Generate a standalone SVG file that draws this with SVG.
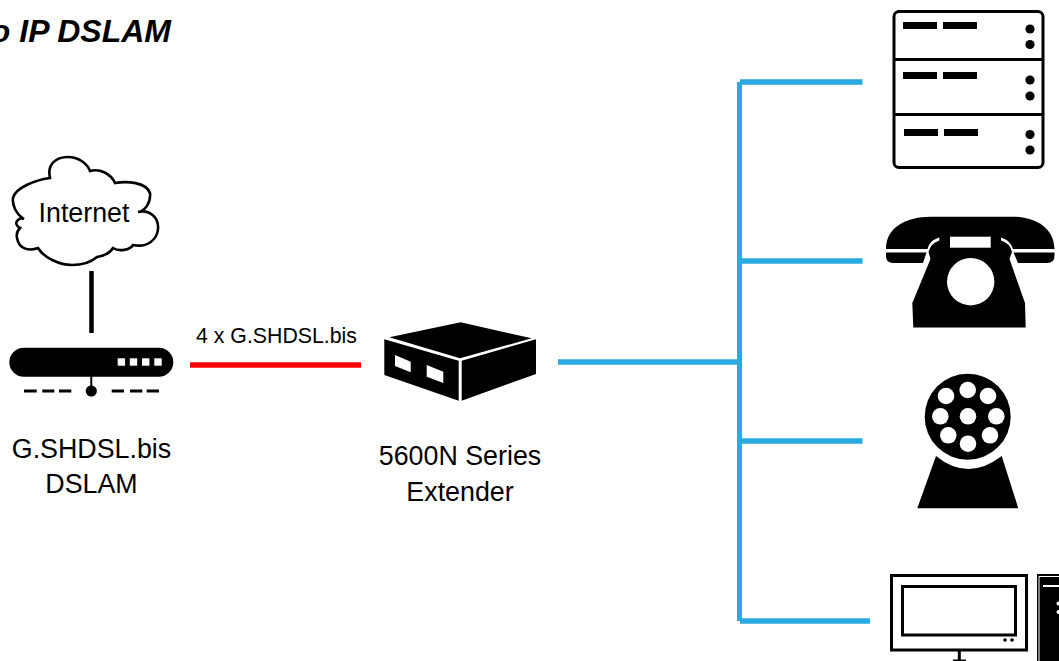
<svg xmlns="http://www.w3.org/2000/svg" width="1059" height="661" viewBox="0 0 1059 661">
<style>
text{font-family:"Liberation Sans",Arial,sans-serif;fill:#000}
.lbl{font-size:26.8px;text-anchor:middle}
.blue{stroke:#29abe2;stroke-width:5.5;fill:none}
.ln{stroke:#000;fill:none}
.w{fill:#fff}
</style>
<rect width="1059" height="661" fill="#fff"/>
<text id="title" x="171" y="41.500" font-size="32" font-weight="bold" font-style="italic" text-anchor="end">o IP DSLAM</text>
<g id="connectors">
<path d="M91.500 271V333" stroke="#000" stroke-width="4.500" fill="none"/>
<path d="M190 365H361" stroke="#f00" stroke-width="5.500" fill="none"/>
<path class="blue" d="M558 362H739.500"/>
<path d="M739.500 82V621" stroke="#29abe2" stroke-width="5" fill="none"/>
<path class="blue" d="M740 82H862.500M740 261H862.500M740 441H862.500M740 621H870"/>
</g>
<g id="internet">
<path d="M50 178C47 165 55 157 68 157C78 157 87 163 90 171C100 168 111 174 115 183C127 181 146 182 150 193C151 203 145 211 138 212C150 209 159 218 158 229C157 240 147 248 133 245C130 250 119 252 113 248C110 253 103 256 97 257C90 263 80 265 72 265C60 265 44 258 38 248C30 251 19 250 17 238C16 233 18 230 20 228C16 226 15 222 18 220C20 218 22 218 24 219C16 214 12 205 13 198C15 188 35 180 50 178Z" fill="#fff" stroke="#000" stroke-width="2.600"/>
<text x="84" y="222" font-size="26.800" text-anchor="middle">Internet</text>
</g>
<g id="dslam">
<rect x="9.300" y="347.700" width="164" height="29" rx="14.500"/>
<g class="w"><rect x="117.700" y="358.300" width="7.400" height="7.400"/><rect x="129.800" y="358.300" width="7.400" height="7.400"/><rect x="142" y="358.300" width="7.400" height="7.400"/><rect x="154.300" y="358.300" width="7.400" height="7.400"/></g>
<path class="ln" stroke-width="2" d="M91.300 376V391"/>
<circle cx="91.300" cy="391" r="5.600"/>
<path class="ln" stroke-width="3" d="M24 391H36.700M42.300 391H54.300M59 391H71.300M111.700 391H124M130 391H142.300M146.700 391H159"/>
<text class="lbl" x="91.500" y="457.500">G.SHDSL.bis</text>
<text class="lbl" x="91.500" y="493">DSLAM</text>
</g>
<text id="link-label" x="276.500" y="343" font-size="21.300" text-anchor="middle">4 x G.SHDSL.bis</text>
<g id="extender">
<path d="M460.700 322.300L531.700 338.300L460 358.300L389.300 337.300Z"/>
<path d="M384.300 339.300L458.700 360.700V400.700L384.300 375ZM395 355V366L410.700 372.300V361.700ZM426.700 365V376.700L443.300 383V371.700Z" fill-rule="evenodd"/>
<path d="M461.700 360.700L536 339.300V374L461.700 400.700Z"/>
<text class="lbl" x="460" y="464.500">5600N Series</text>
<text class="lbl" x="460" y="500.500">Extender</text>
</g>
<g id="server">
<rect x="894" y="11.500" width="149" height="156" rx="5" fill="#fff" stroke="#000" stroke-width="3"/>
<path class="ln" stroke-width="3" d="M894 59.500H1043M894 114.500H1043"/>
<rect x="903" y="22" width="34" height="7"/><rect x="943" y="22" width="34" height="7"/>
<rect x="903" y="72" width="34" height="7"/><rect x="943" y="72" width="34" height="7"/>
<rect x="904" y="129" width="34" height="7"/><rect x="944" y="129" width="34" height="7"/>
<circle cx="1030" cy="29" r="4.600"/><circle cx="1030" cy="44.500" r="4.600"/>
<circle cx="1030" cy="80" r="4.600"/><circle cx="1030" cy="96" r="4.600"/>
<circle cx="1030" cy="134.500" r="4.600"/><circle cx="1030" cy="150" r="4.600"/>
</g>
<g id="telephone">
<path d="M886 249C886 226 908 217 930 216.700H1013C1036 217 1054 228 1054.500 249H1013Q1011 241 1001 237.500H939Q929 241 927.500 249Z"/>
<path d="M939.300 230H1001V240.500Q1010 243 1012 252L1009.500 259L1025 303L1025.700 327.500H913.300L912.300 303L930.500 259L928.500 252Q931 243 939.300 240.500Z"/>
<path d="M886 252.500H926.500L923 263H893Q886 263 886 256ZM1013.500 252.500H1054.500V256Q1054.500 263 1047 263H1018Z"/>
<rect class="w" x="950" y="236.700" width="40.700" height="11"/>
<circle class="w" cx="970.700" cy="281.700" r="23.700"/>
</g>
<g id="handset-dial">
<circle cx="967.700" cy="416.700" r="43"/>
<g class="w"><circle cx="946" cy="396" r="8.300"/><circle cx="967.700" cy="390" r="8.300"/><circle cx="988" cy="396" r="8.300"/><circle cx="940.300" cy="416.300" r="8.300"/><circle cx="968" cy="416.300" r="8.300"/><circle cx="996.300" cy="416.300" r="8.300"/><circle cx="948.300" cy="435.300" r="8.300"/><circle cx="968" cy="443.700" r="8.300"/><circle cx="990" cy="435.300" r="8.300"/></g>
<path d="M936 456Q968 482 1001.700 456L1018.300 508.300H917.300Z"/>
</g>
<g id="computer">
<rect x="891.500" y="575.500" width="135" height="74.500" fill="#fff" stroke="#000" stroke-width="3"/>
<rect x="902.500" y="586.500" width="113" height="48.500" fill="#fff" stroke="#000" stroke-width="3"/>
<circle cx="1005" cy="640" r="1.800"/><circle cx="1012" cy="640" r="1.800"/>
<path d="M959.300 650V660" stroke="#000" stroke-width="3"/>
<rect x="953" y="659.500" width="13" height="1.500"/>
<rect x="1037" y="574" width="22" height="87"/>
<path d="M1039 661V576.500H1059" fill="none" stroke="#fff" stroke-width="1"/>
<path d="M1043 586H1059" stroke="#fff" stroke-width="2"/>
<circle class="w" cx="1058.500" cy="603.500" r="2"/><circle class="w" cx="1058.500" cy="612" r="2"/>
</g>
</svg>
